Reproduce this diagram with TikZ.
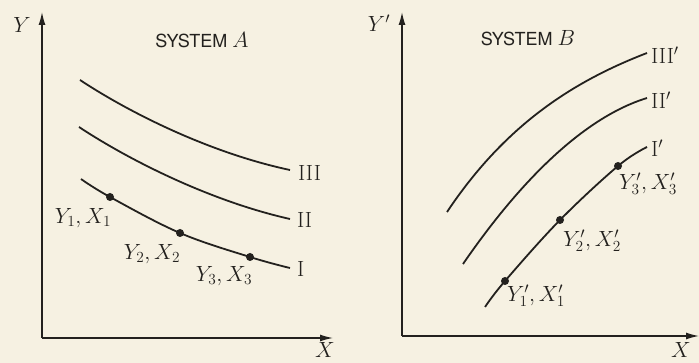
\RequirePackage{fix-cm}
\documentclass[tikz,border=0pt]{standalone}
\usepackage{fontspec}
\setsansfont{TeX Gyre Heros}
\usetikzlibrary{arrows.meta}
\definecolor{paper}{RGB}{246,241,226}
\definecolor{ink}{RGB}{35,33,30}
\tikzset{
  axis/.style={draw=ink, line width=1.4pt, -{Latex[length=13pt,width=7pt]}},
  curve/.style={draw=ink, line width=1.8pt, smooth, tension=0.6},
  pt/.style={circle, fill=ink, inner sep=0pt, minimum size=8pt},
  lbl/.style={text=ink, font=\fontsize{22}{24}\selectfont, inner sep=0pt},
  ttl/.style={text=ink, font=\sffamily\fontsize{18}{20}\selectfont, inner sep=0pt},
}
\begin{document}
\begin{tikzpicture}[x=1pt,y=-1pt]
\fill[paper] (0,0) rectangle (699,363);
\useasboundingbox (0,0) rectangle (699,363);
% ---- System A ----
\coordinate (oA) at (42,338);
\coordinate (yA) at (42,12);
\coordinate (xA) at (333,338);
\draw[axis] (oA) -- (yA);
\draw[axis] (oA) -- (xA);
\node[lbl] (YA) at (22,25) {$Y$};
\node[lbl] (XA) at (325,350) {$X$};
\node[ttl] (tA) at (202,40) {SYSTEM\ \normalfont\fontsize{22}{24}\selectfont$A$};
\coordinate (a3s) at (80,80);
\coordinate (a3e) at (290,170);
\coordinate (a2s) at (79,127);
\coordinate (a2e) at (290,219);
\draw[curve] (a3s) .. controls (130,113) and (210,153) .. (a3e);
\draw[curve] (a2s) .. controls (129,160) and (210,201) .. (a2e);
\node[pt] (p1) at (110,197) {};
\node[pt] (p2) at (180,233) {};
\node[pt] (p3) at (250,257) {};
\draw[curve] plot coordinates {(81,179) (110,197) (180,233) (250,257) (290,268)};
\node[lbl, anchor=west] (l3) at (298,173) {III};
\node[lbl, anchor=west] (l2) at (297,220) {II};
\node[lbl, anchor=west] (l1) at (297,269) {I};
\node[lbl] (q1) at (83,218) {$Y_1, X_1$};
\node[lbl] (q2) at (152,254) {$Y_2, X_2$};
\node[lbl] (q3) at (224,276) {$Y_3, X_3$};
% ---- System B ----
\coordinate (oB) at (402,336);
\coordinate (yB) at (402,12);
\coordinate (xB) at (699,336);
\draw[axis] (oB) -- (yB);
\draw[axis] (oB) -- (xB);
\node[lbl] (YB) at (379,23) {$Y'$};
\node[lbl] (XB) at (681,350) {$X$};
\node[ttl] (tB) at (528,38) {SYSTEM\ \normalfont\fontsize{22}{24}\selectfont$B$};
\coordinate (b3s) at (447,212);
\coordinate (b3e) at (647,53);
\coordinate (b2s) at (463,264);
\coordinate (b2e) at (647,98);
\draw[curve] (b3s) .. controls (507,122) and (577,80) .. (b3e);
\draw[curve] (b2s) .. controls (518,184) and (582,118) .. (b2e);
\node[pt] (r1) at (505,281) {};
\node[pt] (r2) at (560,220) {};
\node[pt] (r3) at (618,166) {};
\draw[curve] plot coordinates {(485,307) (505,281) (560,220) (618,166) (647,147)};
\node[lbl, anchor=west] (m3) at (651,55) {III$'$};
\node[lbl, anchor=west] (m2) at (651,100) {II$'$};
\node[lbl, anchor=west] (m1) at (651,148) {I$'$};
\node[lbl, anchor=west] (s1) at (507,296) {$Y'_1, X'_1$};
\node[lbl, anchor=west] (s2) at (563,241) {$Y'_2, X'_2$};
\node[lbl, anchor=west] (s3) at (619,184) {$Y'_3, X'_3$};
\end{tikzpicture}
\end{document}
